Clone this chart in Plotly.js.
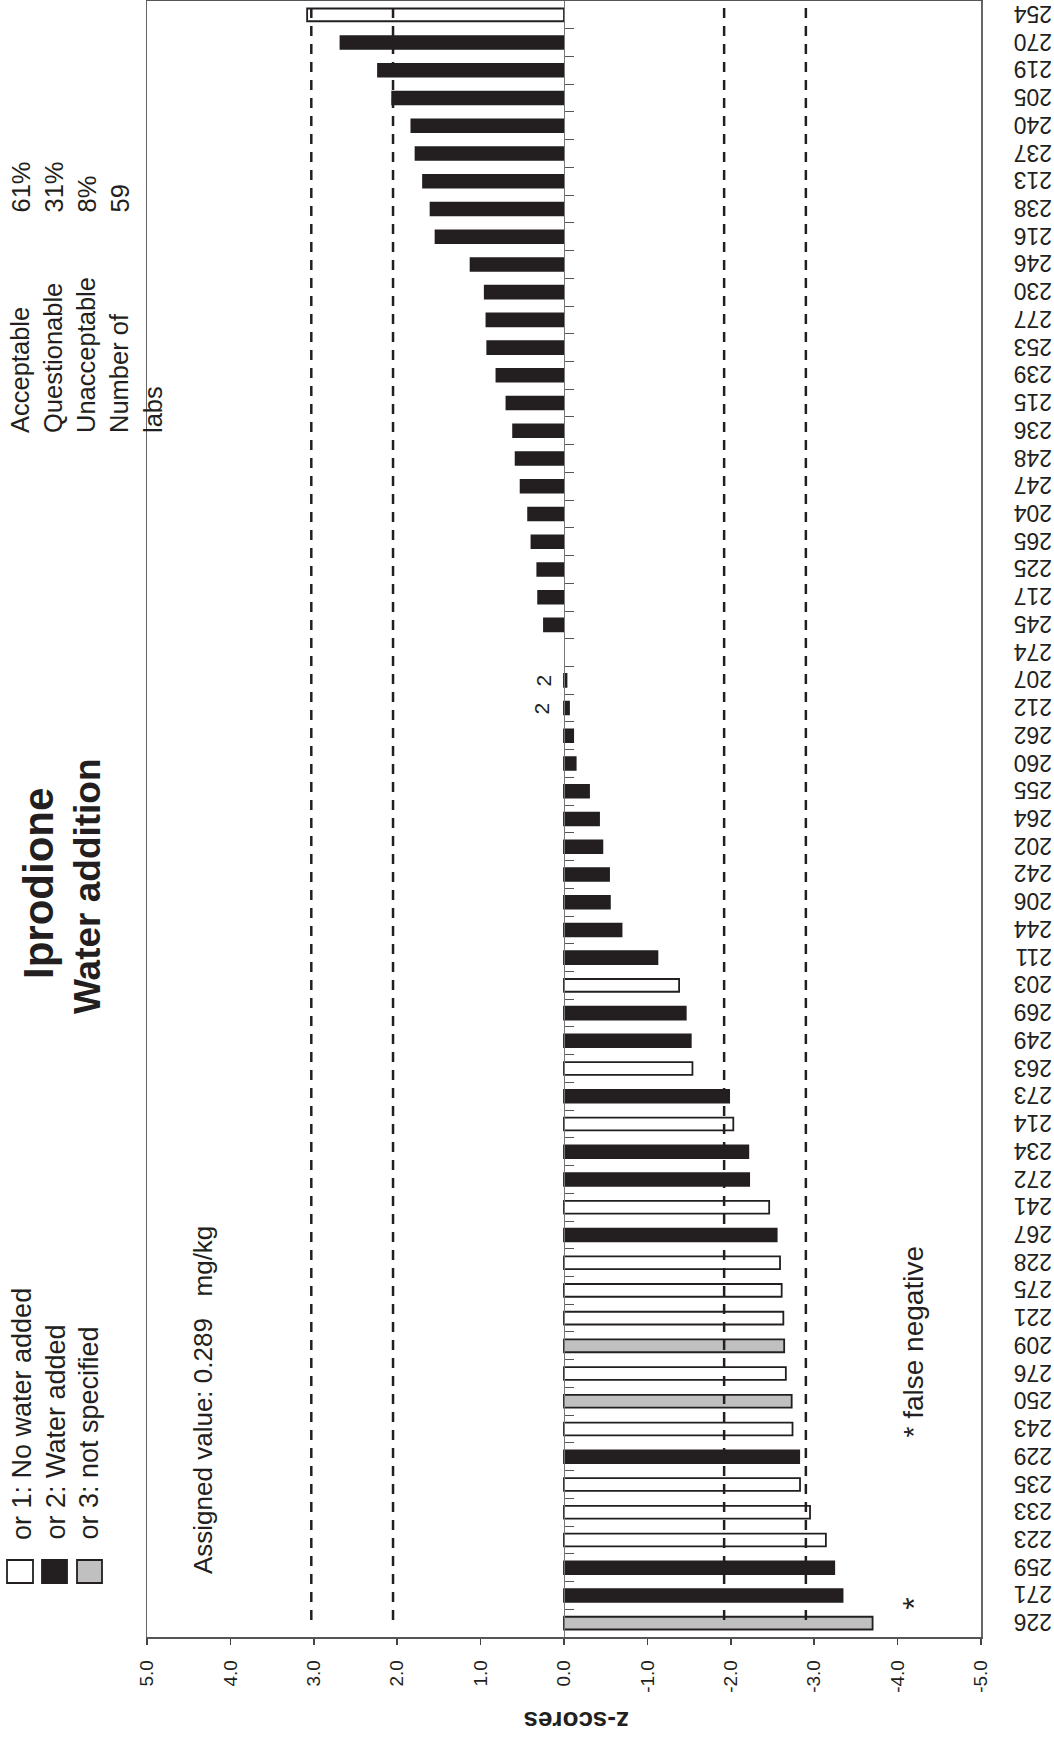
<!DOCTYPE html>
<html><head><meta charset="utf-8">
<script src="https://cdn.plot.ly/plotly-3.0.1.min.js"></script>
<style>html,body{margin:0;padding:0;background:#fff}</style>
</head><body>
<div id="chart" style="width:1054px;height:1746px"></div>
<script>
// ---- data ----
const labs = ['254','270','219','205','240','237','213','238','216','246','230','277','253','239','215','236','248','247','204','265','225','217','245','274','207','212','262','260','255','264','202','242','206','244','211','203','269','249','263','273','214','234','272','241','267','228','275','221','209','276','250','243','229','235','233','223','259','271','226'];
const zScores = [3.08,2.68,2.23,2.06,1.83,1.78,1.69,1.60,1.54,1.12,0.95,0.93,0.92,0.81,0.69,0.61,0.58,0.52,0.43,0.39,0.32,0.31,0.24,null,-0.03,-0.06,-0.11,-0.14,-0.30,-0.42,-0.46,-0.54,-0.55,-0.69,-1.12,-1.38,-1.46,-1.52,-1.54,-1.98,-2.03,-2.21,-2.22,-2.46,-2.55,-2.59,-2.61,-2.63,-2.64,-2.66,-2.73,-2.74,-2.82,-2.83,-2.95,-3.14,-3.24,-3.34,-3.70];
// 1: no water added, 2: water added, 3: not specified
const waterGroup = [1,2,2,2,2,2,2,2,2,2,2,2,2,2,2,2,2,2,2,2,2,2,2,2,2,2,2,2,2,2,2,2,2,2,2,1,2,2,1,2,1,2,2,1,2,1,1,1,3,1,3,1,2,1,1,1,2,2,3];
const groupLabels = ['or 1: No water added','or 2: Water added','or 3: not specified'];
const zTickVals = [5,4,3,2,1,0,-1,-2,-3,-4,-5];
const zTickText = ['5.0','4.0','3.0','2.0','1.0','0.0','-1.0','-2.0','-3.0','-4.0','-5.0'];
const limitLines = [3.03, 2.05, -1.92, -2.90];
const statNames = ['Acceptable','Questionable','Unacceptable','Number of<br>labs'];
const statValues = ['61%','31%','8%','59'];
const noteLabs = ['207','212'];
const noteText = ['2','2'];
const noteX = [0.25, 0.27];
const falseNegLabs = ['271'];
const falseNegX = [-4.2];

// ---- styling ----
const FONT = 'Liberation Sans, Arial, Helvetica, sans-serif';
const INK = '#231f20';
const fills = {1:'#ffffff', 2:INK, 3:'#c0c0c0'};
const M = {l:147, r:73, t:1, b:109};
const FW = 1054, FH = 1746;
const PW = FW - M.l - M.r, PH = FH - M.t - M.b;
const px = v => (v - M.l) / PW;
const py = v => 1 - (v - M.t) / PH;
const catIndex = lab => labs.indexOf(lab);

const traces = [
  {type:'bar', orientation:'h', y:labs, x:zScores, width:0.46,
   marker:{color:waterGroup.map(g=>fills[g]), line:{color:INK, width:1.8}},
   hoverinfo:'x+y', showlegend:false},
  {type:'scatter', mode:'markers', y:labs, x:labs.map(()=>0), yaxis:'y2',
   marker:{opacity:0}, hoverinfo:'skip', showlegend:false}
];

const shapes = limitLines.map(v => ({type:'line', xref:'x', yref:'paper', x0:v, x1:v,
  y0:py(1620), y1:py(6), line:{color:INK, width:2.5, dash:'10px,8px'}}));
const boxX = [[7,33],[42,67],[77,102]];
[1,2,3].forEach((g,i)=>{
  shapes.push({type:'rect', xref:'paper', yref:'paper', x0:px(boxX[i][0]), x1:px(boxX[i][1]),
    y0:py(1583), y1:py(1560), fillcolor:fills[g], line:{color:INK, width:1.8}});
});

const ann = [];
const addText = (text, xp, yp, size, opts={}) => ann.push(Object.assign({
  text, xref:'paper', yref:'paper', x:px(xp), y:py(yp), showarrow:false, textangle:-90,
  xanchor:'center', yanchor:'middle', font:{family:FONT, size, color:INK}}, opts));

addText('<b>Iprodione</b>', 38, 884, 42);
addText('<b>Water addition</b>', 88, 886, 37);
const legendX = [22, 55, 88];
groupLabels.forEach((t,i)=>addText(t, legendX[i], 1542, 27, {yanchor:'bottom'}));
addText('Assigned value: 0.289\u00a0\u00a0\u00a0mg/kg', 203, 1576, 26, {yanchor:'bottom'});
addText(statNames.join('<br>'), 86, 435, 25.5, {yanchor:'bottom', align:'left'});
addText(statValues.join('<br>'), 70, 215, 25.5, {yanchor:'bottom', align:'left'});
addText('* false negative', 913, 1440, 28, {yanchor:'bottom'});
addText('<b>z-scores</b>', 576, 1721, 26, {textangle:180});
noteLabs.forEach((lab,i)=>ann.push({text:noteText[i], xref:'x', yref:'y', x:noteX[i], y:catIndex(lab),
  showarrow:false, textangle:-90, font:{family:FONT, size:21, color:INK}}));
falseNegLabs.forEach((lab,i)=>ann.push({text:'*', xref:'x', yref:'y', x:falseNegX[i], y:catIndex(lab),
  showarrow:false, textangle:-90, yshift:-8, font:{family:FONT, size:32, color:INK}}));

const catRange = [labs.length - 0.5, -0.5];
const layout = {
  width:FW, height:FH, margin:M, paper_bgcolor:'#fff', plot_bgcolor:'#fff',
  showlegend:false, bargap:0.54,
  font:{family:FONT, color:INK},
  xaxis:{range:[5,-5], tickmode:'array', tickvals:zTickVals, ticktext:zTickText, tickangle:-90,
    ticks:'outside', ticklen:6, tickcolor:'#444', tickwidth:1.5, showline:true, mirror:true,
    linecolor:'#555', linewidth:1.5, showgrid:false, zeroline:false,
    tickfont:{family:FONT, size:19, color:INK}, ticklabelstandoff:8},
  yaxis:{type:'category', categoryorder:'array', categoryarray:labs, range:catRange,
    tickmode:'linear', tick0:0, dtick:1,
    side:'right', showline:true, mirror:true, linecolor:'#666', linewidth:1.5, ticks:'',
    tickangle:180, tickfont:{family:FONT, size:23, color:INK}, ticklabelstandoff:65,
    ticklabelshift:-6, showgrid:false, zeroline:false},
  yaxis2:{type:'category', categoryorder:'array', categoryarray:labs, range:catRange,
    tickmode:'linear', tick0:0, dtick:1,
    overlaying:'y', anchor:'free', position:0.5, side:'left', showticklabels:false,
    ticks:'inside', tickson:'boundaries', ticklen:9, tickcolor:'#555', tickwidth:1,
    showline:true, linecolor:'#777', linewidth:1, showgrid:false, zeroline:false},
  shapes, annotations:ann
};
Plotly.newPlot('chart', traces, layout, {displayModeBar:false, staticPlot:true});
</script>
</body></html>
